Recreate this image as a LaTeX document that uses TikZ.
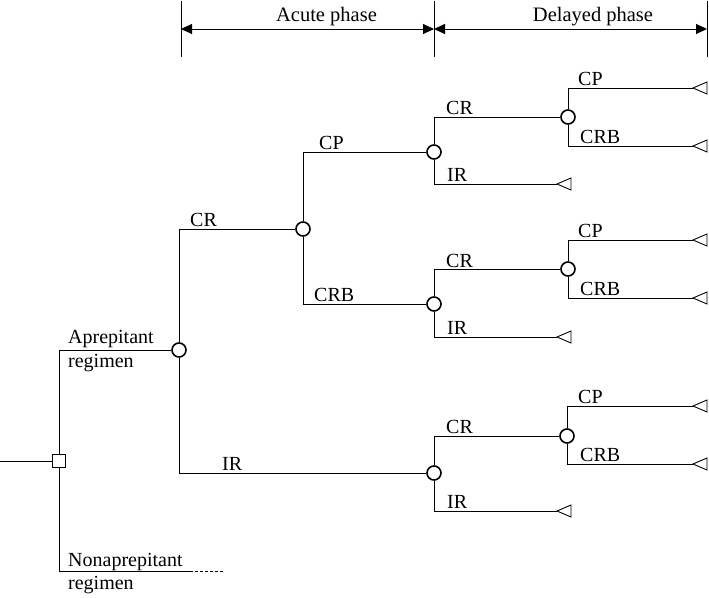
\documentclass[tikz,border=0pt]{standalone}
\usepackage{fontspec}
\setmainfont{Liberation Serif}
\usetikzlibrary{arrows.meta}
\begin{document}
\begin{tikzpicture}[x=1pt,y=-1pt,
  chance/.style={circle, draw, line width=1.6pt, fill=white, minimum size=14pt, inner sep=0pt},
  decision/.style={rectangle, draw, line width=0.9pt, fill=white, minimum size=13pt, inner sep=0pt},
  lbl/.style={anchor=base west, inner sep=0pt, font=\fontsize{20}{24}\selectfont},
  ttl/.style={anchor=base, inner sep=0pt, font=\fontsize{20.5}{24}\selectfont},
  branch/.style={line width=0.9pt},
  termtri/.style={line width=0.9pt},
  phase/.style={line width=0.9pt, {Triangle[length=11pt,width=10pt]}-{Triangle[length=11pt,width=10pt]}}
]
\useasboundingbox (0,0) rectangle (709,597);

% phase header
\coordinate (k1t) at (181,1); \coordinate (k1b) at (181,57);
\coordinate (k2t) at (434,1); \coordinate (k2b) at (434,57);
\coordinate (k3t) at (707,1); \coordinate (k3b) at (707,57);
\coordinate (a1) at (181,29); \coordinate (a2) at (434,29); \coordinate (a3) at (707,29);
\draw[branch] (k1t) -- (k1b);
\draw[branch] (k2t) -- (k2b);
\draw[branch] (k3t) -- (k3b);
\draw[phase] (a1) -- (a2);
\draw[phase] (a2) -- (a3);
\node[ttl] (tacute) at (326.5,21) {Acute phase};
\node[ttl] (tdelay) at (593,21) {Delayed phase};

% nodes
\coordinate (start) at (0,461);
\node[decision] (sq) at (59,461) {};
\node[chance] (A) at (179,350) {};
\node[chance] (B) at (303,229) {};
\node[chance] (C1) at (434,152) {};
\node[chance] (C2) at (434,304) {};
\node[chance] (C3) at (434,473) {};
\node[chance] (D1) at (568,117) {};
\node[chance] (D2) at (568,269) {};
\node[chance] (D3) at (567,436) {};

% terminal points
\coordinate (T1) at (693,88);
\coordinate (T2) at (693,146);
\coordinate (T3) at (557,184);
\coordinate (T4) at (693,240);
\coordinate (T5) at (693,298);
\coordinate (T6) at (557,337);
\coordinate (T7) at (693,406);
\coordinate (T8) at (693,464);
\coordinate (T9) at (557,511);
\coordinate (nsolid) at (190,571);
\coordinate (ndash) at (223,571);

% connectors
\draw[branch] (start) -- (sq);
\draw[branch] (sq) |- (A);
\draw[branch] (sq) |- (nsolid);
\draw[branch, dash pattern=on 3pt off 2pt] (nsolid) -- (ndash);
\draw[branch] (A) |- (B);
\draw[branch] (A) |- (C3);
\draw[branch] (B) |- (C1);
\draw[branch] (B) |- (C2);
\draw[branch] (C1) |- (D1);
\draw[branch] (C1) |- (T3);
\draw[branch] (C2) |- (D2);
\draw[branch] (C2) |- (T6);
\draw[branch] (C3) |- (D3);
\draw[branch] (C3) |- (T9);
\draw[branch] (D1) |- (T1);
\draw[branch] (D1) |- (T2);
\draw[branch] (D2) |- (T4);
\draw[branch] (D2) |- (T5);
\draw[branch] (D3) |- (T7);
\draw[branch] (D3) |- (T8);

% terminal triangles
\foreach \t in {T1,T2,T3,T4,T5,T6,T7,T8,T9} {\draw[termtri, fill=white] (\t) -- ++(14,-6) -- ++(0,12) -- cycle;}

% labels
\node[lbl] (lap1) at (68,343) {Aprepitant};
\node[lbl] (lap2) at (68,367) {regimen};
\node[lbl] (lna1) at (68,566) {Nonaprepitant};
\node[lbl] (lna2) at (68,589) {regimen};
\node[lbl] (lAB) at (190,226) {CR};
\node[lbl] (lAC) at (222,470) {IR};
\node[lbl] (lB1) at (319,149) {CP};
\node[lbl] (lB2) at (314,301) {CRB};
\node[lbl] (lC1a) at (446,114) {CR};
\node[lbl] (lC1b) at (447,181) {IR};
\node[lbl] (lC2a) at (446,267) {CR};
\node[lbl] (lC2b) at (447,334) {IR};
\node[lbl] (lC3a) at (446,433) {CR};
\node[lbl] (lC3b) at (447,508) {IR};
\node[lbl] (lD1a) at (578,85) {CP};
\node[lbl] (lD1b) at (580,143) {CRB};
\node[lbl] (lD2a) at (578,237) {CP};
\node[lbl] (lD2b) at (580,295) {CRB};
\node[lbl] (lD3a) at (578,403) {CP};
\node[lbl] (lD3b) at (580,461) {CRB};
\end{tikzpicture}
\end{document}
